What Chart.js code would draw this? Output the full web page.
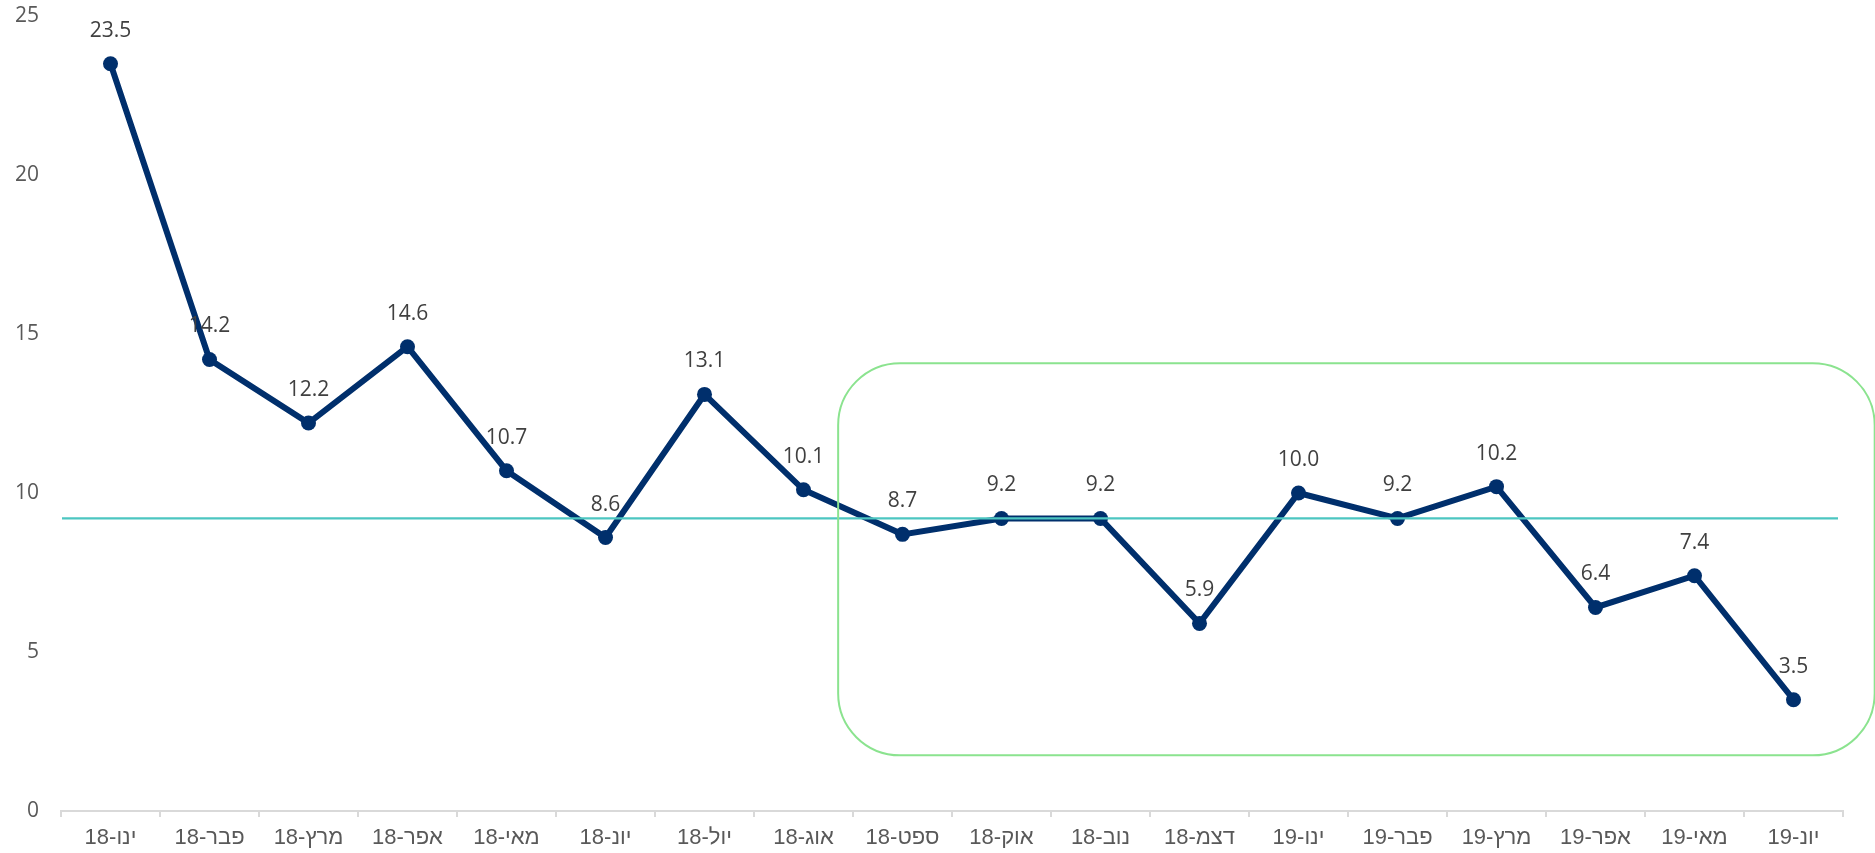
<!DOCTYPE html>
<html>
<head>
<meta charset="utf-8">
<script src="https://cdn.jsdelivr.net/npm/chart.js@4.4.1/dist/chart.umd.min.js"></script>
<style>
  html, body { margin: 0; padding: 0; background: #ffffff; }
  #wrap { width: 1875px; height: 853px; position: relative; }
</style>
</head>
<body>
<div id="wrap"><canvas id="c" width="1875" height="853"></canvas></div>
<script>
// ---- data ----
const categories = ['ינו-18','פבר-18','מרץ-18','אפר-18','מאי-18','יונ-18','יול-18','אוג-18','ספט-18','אוק-18','נוב-18','דצמ-18','ינו-19','פבר-19','מרץ-19','אפר-19','מאי-19','יונ-19'];
const values = [23.5, 14.2, 12.2, 14.6, 10.7, 8.6, 13.1, 10.1, 8.7, 9.2, 9.2, 5.9, 10.0, 9.2, 10.2, 6.4, 7.4, 3.5];
const averageValue = [9.2];
const yTicks = [0, 5, 10, 15, 20, 25];
// highlighted region (category index range, value range)
const highlightX = [7.35, 17.82];
const highlightY = [1.75, 14.08];

const LINE_COLOR = '#002F6C';

const overlayPlugin = {
  id: 'overlay',
  afterDatasetsDraw(chart) {
    const ctx = chart.ctx;
    const xs = chart.scales.x, ys = chart.scales.y;
    const area = chart.chartArea;
    // average line
    const ay = ys.getPixelForValue(averageValue[0]);
    ctx.save();
    ctx.strokeStyle = '#4CC6C1';
    ctx.lineWidth = 2.2;
    ctx.beginPath();
    ctx.moveTo(area.left + 1, ay);
    ctx.lineTo(area.right - 5, ay);
    ctx.stroke();
    ctx.restore();

    // data labels
    const meta = chart.getDatasetMeta(0);
    ctx.save();
    ctx.font = '21px "Open Sans"';
    ctx.fillStyle = '#404040';
    ctx.textAlign = 'center';
    ctx.textBaseline = 'middle';
    meta.data.forEach((pt, i) => {
      ctx.fillText(values[i].toFixed(1), pt.x, pt.y - 33);
    });
    ctx.restore();

    // highlight rounded box
    const step = xs.getPixelForValue(1) - xs.getPixelForValue(0);
    const x0 = xs.getPixelForValue(0);
    const left = x0 + highlightX[0] * step;
    const right = x0 + highlightX[1] * step;
    const top = ys.getPixelForValue(highlightY[1]);
    const bottom = ys.getPixelForValue(highlightY[0]);
    ctx.save();
    ctx.strokeStyle = '#8BE38F';
    ctx.lineWidth = 2;
    ctx.beginPath();
    ctx.roundRect(left, top, right - left, bottom - top, 62);
    ctx.stroke();
    ctx.restore();
  }
};

new Chart(document.getElementById('c'), {
  type: 'line',
  data: {
    labels: categories,
    datasets: [{
      data: values,
      borderColor: LINE_COLOR,
      backgroundColor: LINE_COLOR,
      borderWidth: 6,
      pointRadius: 7.5,
      pointHoverRadius: 7.5,
      pointBackgroundColor: LINE_COLOR,
      pointBorderColor: LINE_COLOR,
      pointBorderWidth: 0,
      tension: 0,
      fill: false
    }]
  },
  options: {
    responsive: false,
    animation: false,
    devicePixelRatio: 1,
    layout: { padding: { top: 16, right: 32, left: 0, bottom: 0 } },
    plugins: { legend: { display: false }, tooltip: { enabled: false } },
    scales: {
      x: {
        offset: true,
        grid: { display: true, offset: true, drawOnChartArea: false, drawTicks: true, tickLength: 6, color: '#D9D9D9', lineWidth: 2 },
        border: { display: true, color: '#D9D9D9', width: 2 },
        ticks: { color: '#595959', font: { family: '"Liberation Sans Narrow", "Arial Narrow", Arial', size: 22 }, padding: 8, maxRotation: 0, autoSkip: false },
        afterFit(scale) { scale.height = 42; scale.paddingLeft = 0; scale.paddingRight = 0; }
      },
      y: {
        min: 0, max: 25,
        afterBuildTicks(scale) { scale.ticks = yTicks.map(v => ({ value: v })); },
        grid: { display: false },
        border: { display: false },
        ticks: { color: '#595959', font: { family: '"Open Sans"', size: 21 }, padding: 14 },
        afterFit(scale) { scale.width = 61; scale.paddingTop = 0; scale.paddingBottom = 0; }
      }
    }
  },
  plugins: [overlayPlugin]
});
</script>
</body>
</html>
